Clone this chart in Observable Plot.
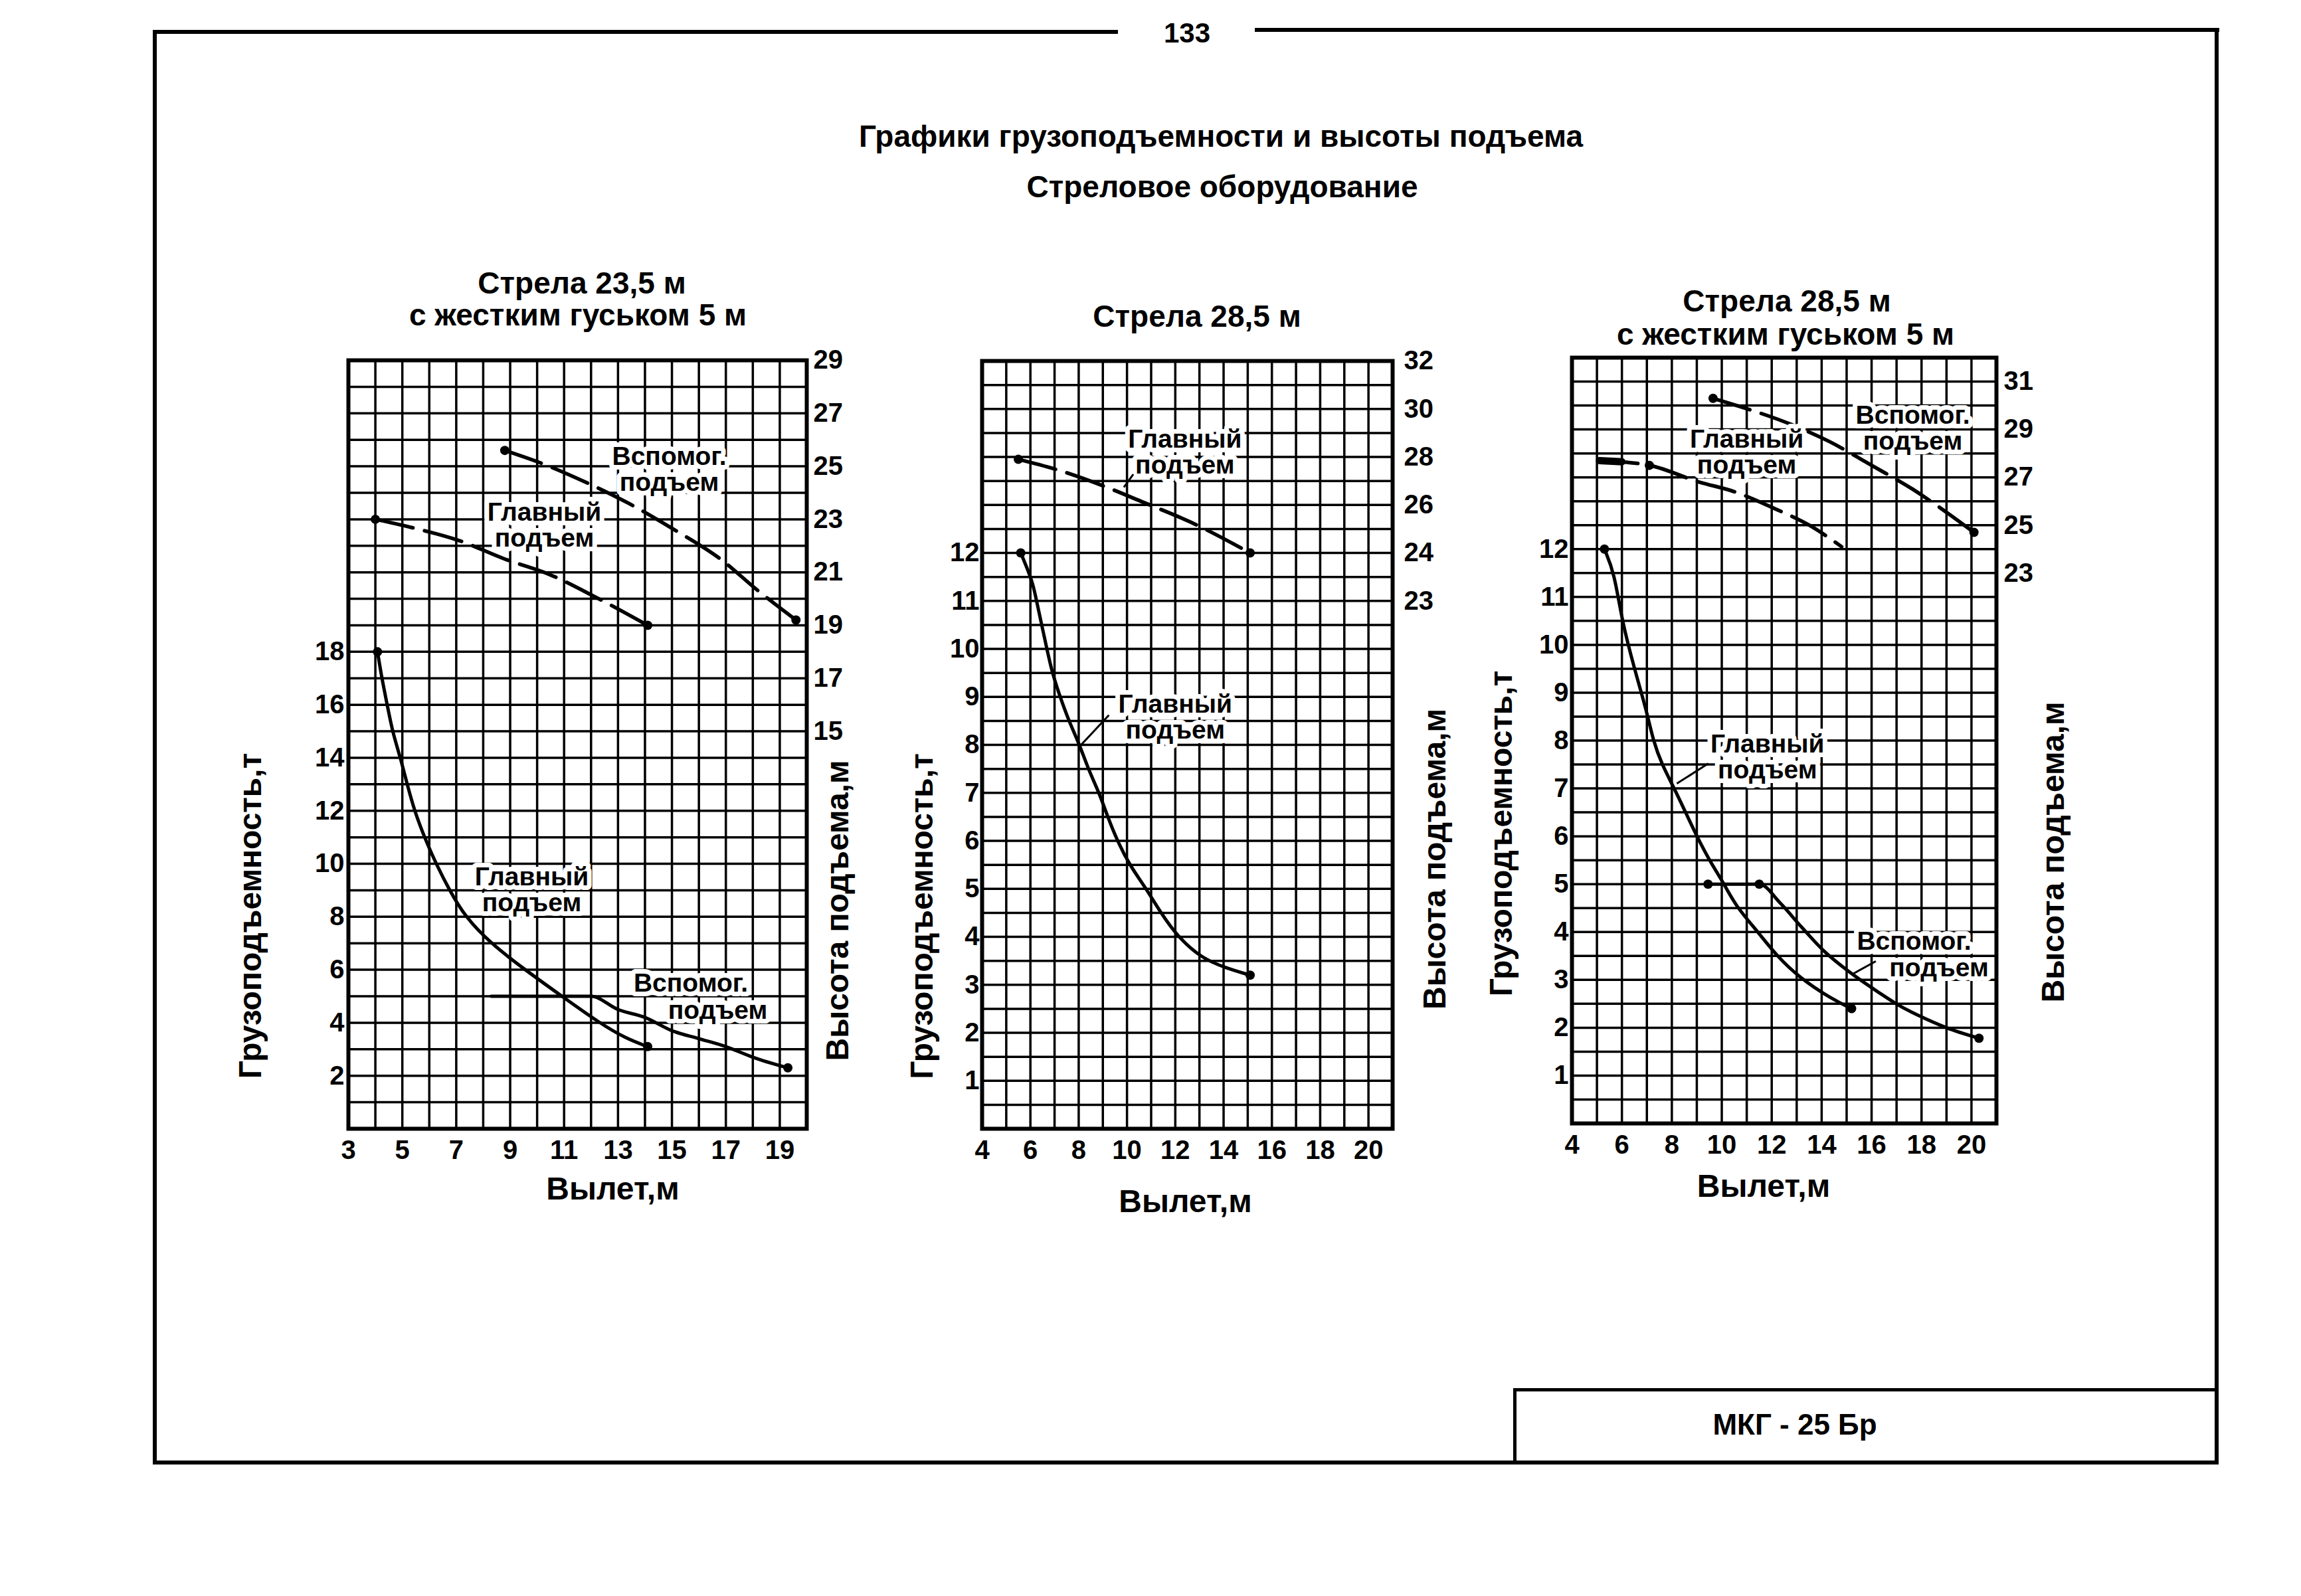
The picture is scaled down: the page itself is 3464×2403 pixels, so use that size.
<!DOCTYPE html>
<html><head><meta charset="utf-8">
<script src="https://cdn.jsdelivr.net/npm/d3@7"></script>
<script src="https://cdn.jsdelivr.net/npm/@observablehq/plot@0.6"></script>
<style>
html,body{margin:0;padding:0;background:#fff;}
#page{position:relative;width:3464px;height:2403px;background:#fff;font-family:"Liberation Sans",Arial,sans-serif;color:#000;overflow:hidden;}
.t{position:absolute;transform:translate(-50%,-50%);white-space:nowrap;line-height:1;}
.ln{position:absolute;background:#000;}
.box{position:absolute;border:5px solid #000;box-sizing:border-box;}
.chart{position:absolute;}
</style></head><body><div id="page"></div>
<script>
// ---------- texts ----------
const pageNumber = "133";
const mainTitle = "Графики грузоподъемности и высоты подъема";
const subTitle = "Стреловое оборудование";
const stampText = "МКГ - 25 Бр";
const capLabel = "Грузоподъемность,т";
const hLabel = "Высота подъема,м";
const xLabel = "Вылет,м";

// ---------- chart A: Стрела 23,5 м с жестким гуськом 5 м ----------
const aTitle = ["Стрела 23,5 м", "с жестким гуськом 5 м"];
const aXTicks = [3, 5, 7, 9, 11, 13, 15, 17, 19];
const aLeftTicks = [2, 4, 6, 8, 10, 12, 14, 16, 18];
const aRightTicks = [29, 27, 25, 23, 21, 19, 17, 15];
const aMainCapX = [4.08, 4.24, 4.44, 4.63, 4.93, 5.18, 5.45, 5.82, 6.25, 6.75, 7.33, 8.27, 9.55, 10.92, 12.3, 13.3, 14.1];
const aMainCapY = [18, 17, 16, 15, 14, 13, 12, 11, 10, 9, 8, 7, 6, 5, 4, 3.4, 3.1];
const aAuxCapX = [8.3, 12, 13, 14, 15, 16, 17, 18, 19.3];
const aAuxCapY = [5, 5, 4.5, 4.2, 3.7, 3.4, 3.1, 2.7, 2.3];
const aMainHX = [4, 5.3, 7.1, 8.8, 10.5, 12.1, 14.1];
const aMainHY = [23, 22.7, 22.2, 21.5, 20.9, 20.1, 19];
const aAuxHX = [8.8, 10.2, 11.8, 13.4, 15.1, 16.8, 18.2, 19.6];
const aAuxHY = [25.6, 25.1, 24.4, 23.6, 22.6, 21.5, 20.3, 19.2];
const aNoteText = ["Вспомог.\nподъем", "Главный\nподъем", "Главный\nподъем", "Вспомог.", "подъем"];
const aNoteX = [14.9, 10.27, 9.8, 15.7, 16.7];
const aNoteY = [24.87, 22.78, 9.02, 5.5, 4.45];

// ---------- chart B: Стрела 28,5 м ----------
const bTitle = ["Стрела 28,5 м"];
const bXTicks = [4, 6, 8, 10, 12, 14, 16, 18, 20];
const bLeftTicks = [1, 2, 3, 4, 5, 6, 7, 8, 9, 10, 11, 12];
const bRightTickH = [32, 30, 28, 26, 24, 22];
const bRightTickText = ["32", "30", "28", "26", "24", "23"];
const bMainCapX = [5.6, 6.1, 6.25, 6.6, 6.87, 7.23, 7.59, 8.04, 8.39, 8.85, 9.2, 9.6, 10.1, 10.8, 11.4, 12.1, 13.1, 14.1, 15.1];
const bMainCapY = [12, 11.4, 11, 10.2, 9.55, 9, 8.5, 8, 7.5, 7, 6.5, 6, 5.5, 5, 4.5, 4, 3.55, 3.35, 3.2];
const bMainHX = [5.5, 7, 9, 10.7, 12.6, 15.1];
const bMainHY = [27.9, 27.5, 26.8, 26.1, 25.3, 24];
const bNoteText = ["Главный\nподъем", "Главный\nподъем"];
const bNoteX = [12.4, 12.0];
const bNoteY = [14.1, 8.57];
const bLeaderX1 = [10.26, 9.25], bLeaderY1 = [13.64, 8.62];
const bLeaderX2 = [9.87, 8.1], bLeaderY2 = [13.37, 8.0];

// ---------- chart C: Стрела 28,5 м с жестким гуськом 5 м ----------
const cTitle = ["Стрела 28,5 м", "с жестким гуськом 5 м"];
const cXTicks = [4, 6, 8, 10, 12, 14, 16, 18, 20];
const cLeftTicks = [1, 2, 3, 4, 5, 6, 7, 8, 9, 10, 11, 12];
const cRightTicks = [31, 29, 27, 25, 23];
const cMainCapX = [5.3, 5.7, 6.0, 6.5, 7.0, 7.25, 7.6, 8.1, 8.55, 9.0, 9.5, 10.1, 10.55, 11.45, 12.2, 13.1, 14.4, 15.2];
const cMainCapY = [12, 11.5, 10.5, 9.5, 8.6, 8, 7.5, 7, 6.5, 6, 5.5, 5, 4.55, 4, 3.5, 3.05, 2.6, 2.4];
const cAuxCapX = [9.45, 11.5, 12.35, 13.2, 14.1, 15.1, 16.25, 17.15, 17.9, 19, 20.3];
const cAuxCapY = [5, 5, 4.6, 4.1, 3.6, 3.17, 2.75, 2.45, 2.25, 2.0, 1.78];
const cMainHX = [5.1, 7.1, 9.1, 10.5, 12.1, 13.5, 14.8];
const cMainHY = [27.7, 27.5, 26.8, 26.4, 25.7, 25, 24.1];
const cMainHStubX = [5.1, 6.0];
const cMainHStubY = [27.7, 27.65];
const cAuxHX = [9.65, 10.6, 12.8, 14.3, 16, 17.65, 19.05, 20.1];
const cAuxHY = [30.3, 30, 29.2, 28.5, 27.5, 26.5, 25.5, 24.7];
const cNoteText = ["Вспомог.\nподъем", "Главный\nподъем", "Главный\nподъем", "Вспомог.", "подъем"];
const cNoteX = [17.65, 11.0, 11.83, 17.7, 18.7];
const cNoteY = [14.52, 14.02, 7.65, 3.8, 3.25];
const cLeaderX1 = [9.46, 16.17], cLeaderY1 = [7.52, 3.39];
const cLeaderX2 = [8.2, 15.27], cLeaderY2 = [7.1, 3.13];

// ---------- helpers ----------
const page = document.getElementById("page");
const FONT = '"Liberation Sans", Arial, sans-serif';
function addText(txt, x, y, size, weight) {
  const d = document.createElement("div");
  d.className = "t"; d.textContent = txt;
  d.style.left = x + "px"; d.style.top = y + "px";
  d.style.fontSize = size + "px"; d.style.fontWeight = weight || "bold";
  page.appendChild(d);
}
function addLine(x, y, w, h) {
  const d = document.createElement("div");
  d.className = "ln";
  Object.assign(d.style, {left: x + "px", top: y + "px", width: w + "px", height: h + "px"});
  page.appendChild(d);
}
const ident = v => v;
const half = v => v / 2;
function series(xs, ys, f) { return xs.map((x, i) => ({x, y: (f || ident)(ys[i])})); }
function notes(txt, xs, ys) { return txt.map((t, i) => ({text: t, x: xs[i], y: ys[i]})); }
function leaders(x1, y1, x2, y2) { return x1.map((v, i) => ({x1: v, y1: y1[i], x2: x2[i], y2: y2[i]})); }
const first = s => s[0], last = s => s[s.length - 1];

function chart(o) {
  const mL = 220, mR = 140, mT = 30, mB = 150;
  const W = o.gridW + mL + mR, H = o.gridH + mT + mB;
  const titleOpts = {fontSize: 48, textAnchor: "middle", lineAnchor: "middle"};
  const svg = Plot.plot({
    width: W, height: H,
    marginLeft: mL, marginRight: mR, marginTop: mT, marginBottom: mB,
    x: {domain: o.xDomain},
    y: {domain: o.yDomain},
    style: {fontFamily: FONT, fontSize: "40px", fontWeight: "bold", color: "#000", background: "none", overflow: "visible"},
    marks: [
      Plot.ruleX(o.xGrid, {stroke: "#000", strokeWidth: 3.5}),
      Plot.ruleY(o.yGrid, {stroke: "#000", strokeWidth: 3.5}),
      Plot.frame({stroke: "#000", strokeWidth: 6}),
      Plot.line(o.mainCap, {x: "x", y: "y", curve: "basis", stroke: "#000", strokeWidth: 5}),
      ...(o.auxCap ? [Plot.line(o.auxCap, {x: "x", y: "y", curve: "monotone-x", stroke: "#000", strokeWidth: 5})] : []),
      ...o.dashed.map(s => Plot.line(s, {x: "x", y: "y", curve: "monotone-x", stroke: "#000", strokeWidth: 5.5, strokeDasharray: "58,18"})),
      ...(o.stubs || []).map(s => Plot.line(s, {x: "x", y: "y", stroke: "#000", strokeWidth: 11})),
      Plot.dot(o.dots, {x: "x", y: "y", r: 7, fill: "#000"}),
      Plot.text(o.notes, {x: "x", y: "y", text: "text", fontSize: 39, fontWeight: "bold", lineHeight: 1.0, fill: "#000", stroke: "#fff", strokeWidth: 14, paintOrder: "stroke"}),
      Plot.link(o.leaders || [], {x1: "x1", y1: "y1", x2: "x2", y2: "y2", stroke: "#000", strokeWidth: 3}),
      Plot.axisX(o.xTicks, {anchor: "bottom", tickSize: 0, tickPadding: 17, label: null, tickFormat: d => String(d)}),
      Plot.axisY(o.leftTicks, {anchor: "left", tickSize: 0, tickPadding: o.lp, label: null, tickFormat: d => String(d)}),
      Plot.axisY(o.rightPos, {anchor: "right", tickSize: 0, tickPadding: o.rp, label: null, tickFormat: o.rightFormat}),
      Plot.text([capLabel], {frameAnchor: "left", dx: o.capDx, dy: o.capDy, rotate: -90, ...titleOpts}),
      Plot.text([hLabel], {frameAnchor: "right", dx: o.hDx, dy: o.hDy, rotate: -90, ...titleOpts}),
      Plot.text([xLabel], {frameAnchor: "bottom", dx: o.xDx, dy: o.xDy, ...titleOpts})
    ]
  });
  svg.classList.add("chart");
  svg.style.left = (o.left - mL) + "px";
  svg.style.top = (o.top - mT) + "px";
  page.appendChild(svg);
}

// ---------- page frame ----------
addLine(230, 45, 1453, 6);        // top line, left part
addLine(1889, 42, 1452, 6);       // top line, right part
addLine(230, 45, 6, 2160);        // left border
addLine(3334, 42, 6, 2162);       // right border
addLine(230, 2199, 3110, 6);      // bottom border
const stamp = document.createElement("div");
stamp.className = "box";
Object.assign(stamp.style, {left: "2278px", top: "2090px", width: "1062px", height: "114px"});
page.appendChild(stamp);
addText(pageNumber, 1787, 50, 42, "bold");
addText(mainTitle, 1838, 205, 46, "bold");
addText(subTitle, 1840, 281, 46, "bold");
addText(stampText, 2702, 2145, 44, "bold");

addText(aTitle[0], 876, 426, 46, "bold");
addText(aTitle[1], 870, 474, 46, "bold");
addText(bTitle[0], 1802, 476, 46, "bold");
addText(cTitle[0], 2690, 453, 46, "bold");
addText(cTitle[1], 2688, 503, 46, "bold");

// ---------- charts ----------
const aMainCap = series(aMainCapX, aMainCapY), aAuxCap = series(aAuxCapX, aAuxCapY);
const aMainH = series(aMainHX, aMainHY), aAuxH = series(aAuxHX, aAuxHY);
chart({
  left: 524, top: 542, gridW: 690, gridH: 1157,
  xDomain: [3, 20], yDomain: [0, 29],
  xGrid: d3.range(3, 20.01, 1), yGrid: d3.range(0, 29.01, 1),
  xTicks: aXTicks, leftTicks: aLeftTicks, lp: 6,
  rightPos: aRightTicks, rp: 10, rightFormat: d => String(d),
  mainCap: aMainCap, auxCap: aAuxCap,
  dashed: [aMainH, aAuxH],
  dots: [first(aMainCap), last(aMainCap), last(aAuxCap), first(aMainH), last(aMainH), first(aAuxH), last(aAuxH)],
  notes: notes(aNoteText, aNoteX, aNoteY),
  capDx: -147, capDy: 258, hDx: 47, hDy: 250, xDx: 53, xDy: 91
});

const bMainCap = series(bMainCapX, bMainCapY), bMainH = series(bMainHX, bMainHY, half);
chart({
  left: 1478, top: 543, gridW: 618, gridH: 1156,
  xDomain: [4, 21], yDomain: [0, 16],
  xGrid: d3.range(4, 21.01, 1), yGrid: d3.range(0, 16.01, 0.5),
  xTicks: bXTicks, leftTicks: bLeftTicks, lp: 4,
  rightPos: bRightTickH.map(half), rp: 17,
  rightFormat: d => bRightTickText[bRightTickH.map(half).indexOf(d)],
  mainCap: bMainCap,
  dashed: [bMainH],
  dots: [first(bMainCap), last(bMainCap), first(bMainH), last(bMainH)],
  notes: notes(bNoteText, bNoteX, bNoteY),
  leaders: leaders(bLeaderX1, bLeaderY1, bLeaderX2, bLeaderY2),
  capDx: -90, capDy: 258, hDx: 64, hDy: 172, xDx: -3, xDy: 110
});

const cMainCap = series(cMainCapX, cMainCapY), cAuxCap = series(cAuxCapX, cAuxCapY);
const cMainH = series(cMainHX, cMainHY, half), cAuxH = series(cAuxHX, cAuxHY, half);
chart({
  left: 2366, top: 538, gridW: 639, gridH: 1153,
  xDomain: [4, 21], yDomain: [0, 16],
  xGrid: d3.range(4, 21.01, 1), yGrid: d3.range(0, 16.01, 0.5),
  xTicks: cXTicks, leftTicks: cLeftTicks, lp: 5,
  rightPos: cRightTicks.map(half), rp: 11,
  rightFormat: d => String(d * 2),
  mainCap: cMainCap, auxCap: cAuxCap,
  dashed: [cMainH, cAuxH],
  stubs: [series(cMainHStubX, cMainHStubY, half)],
  dots: [first(cMainCap), last(cMainCap), first(cAuxCap), cAuxCap[1], last(cAuxCap), cMainH[1], first(cAuxH), last(cAuxH)],
  notes: notes(cNoteText, cNoteX, cNoteY),
  leaders: leaders(cLeaderX1, cLeaderY1, cLeaderX2, cLeaderY2),
  capDx: -106, capDy: 140, hDx: 86, hDy: 168, xDx: -31, xDy: 95
});
</script></body></html>
